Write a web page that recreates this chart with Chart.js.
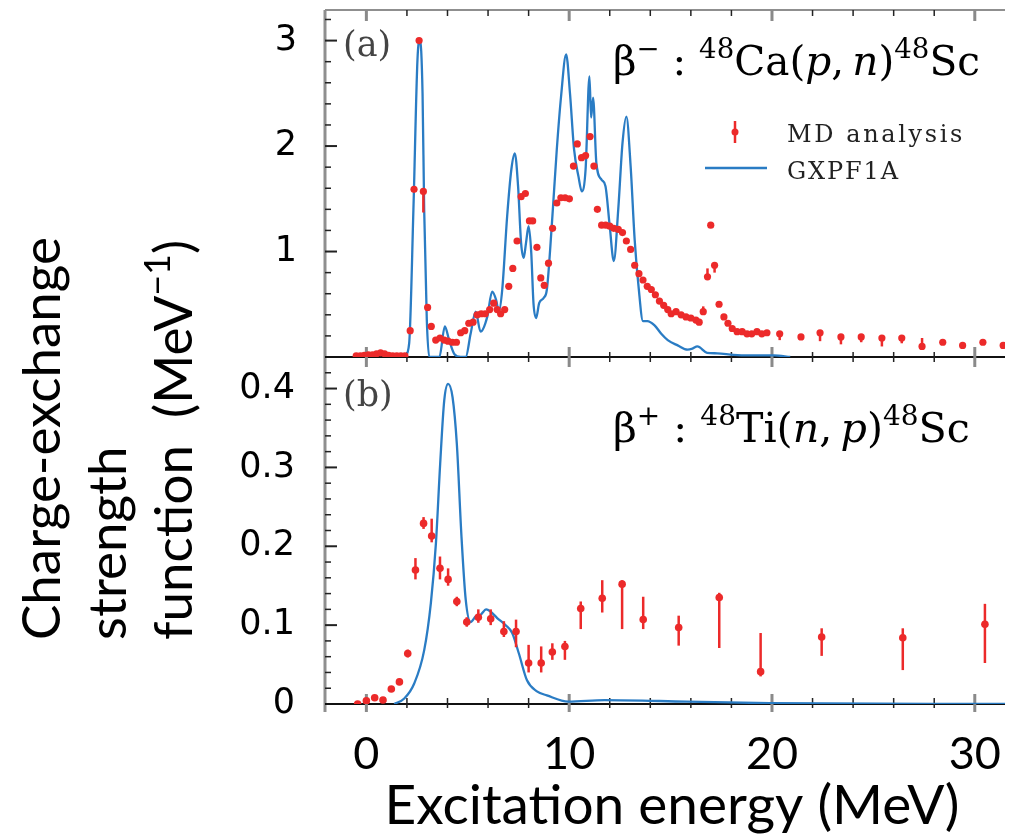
<!DOCTYPE html>
<html>
<head>
<meta charset="utf-8">
<script src="https://cdn.jsdelivr.net/npm/chart.js@4.4.1/dist/chart.umd.min.js"></script>
<style>
  html, body { margin: 0; padding: 0; background: #fff; }
</style>
</head>
<body>
<canvas id="strength" width="1009" height="837"></canvas>
<script>
// tick labels
const xTickValues = [0, 10, 20, 30];
const aTickValues = [1, 2, 3];
const bTickValues = [0, 0.1, 0.2, 0.3, 0.4];

// (a) beta-  48Ca(p,n)48Sc : MD analysis
const aMdX = [-0.5, -0.3, -0.1, 0.1, 0.3, 0.5, 0.7, 0.9, 1.1, 1.3, 1.5, 1.7, 1.9,
  2.16, 2.35, 2.6, 2.81, 3.02, 3.2, 3.42, 3.63, 3.84, 4.03, 4.24, 4.44, 4.65, 4.85, 5.05, 5.26, 5.46, 5.66, 5.86, 6.08, 6.28, 6.45, 6.62, 6.82,
  7.02, 7.22, 7.43, 7.63, 7.84, 8.04, 8.2, 8.41, 8.6, 8.77, 8.98, 9.18, 9.39, 9.59, 9.8, 10.01, 10.21, 10.4, 10.61, 10.81,
  11.03, 11.22, 11.39, 11.6, 11.8, 12.0, 12.2, 12.42, 12.63, 12.82, 13.03, 13.23, 13.44, 13.64, 13.85, 14.05, 14.25, 14.45, 14.66, 14.86,
  15.03, 15.27, 15.52, 15.76, 16.0, 16.25, 16.41, 16.61, 16.82, 16.98, 17.17, 17.39, 17.63, 17.83, 18.04, 18.28, 18.53, 18.77, 19.0, 19.26, 19.5, 19.75,
  20.38, 21.43, 22.37, 23.4, 24.4, 25.42, 26.4, 27.4, 28.42, 29.4, 30.4, 31.4];
const aMdY = [0.01, 0.01, 0.015, 0.02, 0.02, 0.03, 0.04, 0.03, 0.015, 0.01, 0.01, 0.01, 0.01,
  0.25, 1.59, 3.0, 1.57, 0.47, 0.29, 0.16, 0.18, 0.16, 0.15, 0.14, 0.14, 0.23, 0.25, 0.32, 0.33, 0.40, 0.41, 0.41, 0.45, 0.51, 0.45, 0.41, 0.45,
  0.67, 0.84, 1.10, 1.52, 1.55, 1.29, 1.29, 1.04, 0.75, 0.68, 0.89, 1.22, 1.46, 1.51, 1.51, 1.50, 1.81, 2.02, 1.89, 1.91,
  2.09, 1.81, 1.40, 1.25, 1.25, 1.24, 1.22, 1.21, 1.18, 1.10, 1.02, 0.87, 0.79, 0.73, 0.67, 0.64, 0.59, 0.53, 0.49, 0.45,
  0.41, 0.43, 0.40, 0.38, 0.37, 0.35, 0.33, 0.43, 0.76, 1.25, 0.87, 0.50, 0.38, 0.32, 0.27, 0.24, 0.24, 0.22, 0.22, 0.24, 0.22, 0.23,
  0.22, 0.19, 0.23, 0.19, 0.19, 0.18, 0.18, 0.10, 0.14, 0.11, 0.14, 0.11];
// visible error bars in (a)
const aErrX = [2.81, 16.61, 16.82, 17.17, 20.38, 22.37, 23.4, 24.4, 25.42, 26.4, 27.4, 31.4];
const aErrLo = [1.37, 0.43, 0.76, 0.80, 0.16, 0.15, 0.12, 0.14, 0.10, 0.13, 0.10, 0.11];
const aErrHi = [1.57, 0.48, 0.84, 0.87, 0.22, 0.23, 0.19, 0.19, 0.18, 0.18, 0.18, 0.14];

// (a) GXPF1A
const aThX = [1.9, 2.11, 2.32, 2.52, 2.64, 2.77, 2.85, 2.98, 3.1, 3.6, 3.87, 4.08, 4.33, 4.65, 4.9, 5.14, 5.39, 5.63, 5.96, 6.2,
  6.4, 6.53, 6.7, 6.94, 7.15, 7.32, 7.48, 7.63, 7.76, 7.87, 8.0, 8.13, 8.24, 8.37, 8.52, 8.74, 8.9, 9.15, 9.39, 9.6,
  9.85, 10.04, 10.24, 10.46, 10.62, 10.81, 11.0, 11.08, 11.18, 11.34, 11.6, 11.79, 12.0, 12.2, 12.42, 12.63, 12.82, 13.03, 13.23, 13.42,
  13.64, 13.85, 14.21, 14.54, 14.86, 15.35, 15.84, 16.08, 16.32, 16.8, 17.3, 18.1, 18.9, 20.1, 20.9];
const aThY = [0, 0.13, 1.40, 2.82, 3.01, 2.50, 1.40, 0.35, 0, 0, 0.29, 0.16, 0.03, 0, 0, 0.22, 0.43, 0.24, 0.38, 0.62,
  0.54, 0.43, 0.64, 1.33, 1.78, 1.93, 1.62, 1.08, 0.94, 1.08, 1.24, 0.99, 0.51, 0.37, 0.51, 0.56, 0.64, 1.27, 1.97, 2.47,
  2.87, 2.50, 1.97, 1.71, 1.57, 1.78, 2.66, 2.27, 2.46, 1.84, 1.68, 1.62, 1.24, 0.91, 1.40, 2.03, 2.28, 1.81, 1.11, 0.67,
  0.34, 0.34, 0.30, 0.22, 0.16, 0.11, 0.07, 0.08, 0.10, 0.04, 0.035, 0.02, 0.015, 0.015, 0];

// (b) beta+  48Ti(n,p)48Sc : MD analysis
const bMdX = [-0.43, 0.0, 0.41, 0.82, 1.23, 1.63, 2.04, 2.42, 2.82, 3.22, 3.63, 4.03, 4.46, 4.95, 5.52, 6.13,
  6.78, 7.38, 8.0, 8.62, 9.17, 9.79, 10.57, 11.63, 12.61, 13.65, 15.4, 17.4, 19.44, 22.45, 26.45, 30.5];
const bMdY = [0.000, 0.004, 0.008, 0.005, 0.019, 0.028, 0.064, 0.170, 0.229, 0.213, 0.172, 0.158, 0.130, 0.104, 0.110, 0.108,
  0.092, 0.092, 0.052, 0.052, 0.066, 0.073, 0.121, 0.134, 0.152, 0.107, 0.097, 0.135, 0.041, 0.085, 0.084, 0.101];
const bErrLo = [0.000, 0.003, 0.006, 0.004, 0.016, 0.024, 0.059, 0.158, 0.222, 0.205, 0.158, 0.150, 0.124, 0.098, 0.103, 0.100,
  0.085, 0.072, 0.040, 0.040, 0.056, 0.056, 0.095, 0.116, 0.095, 0.095, 0.074, 0.071, 0.035, 0.061, 0.043, 0.052];
const bErrHi = [0.002, 0.006, 0.011, 0.007, 0.022, 0.032, 0.069, 0.185, 0.237, 0.235, 0.187, 0.172, 0.136, 0.110, 0.120, 0.120,
  0.105, 0.107, 0.075, 0.073, 0.077, 0.080, 0.130, 0.157, 0.157, 0.136, 0.112, 0.141, 0.090, 0.096, 0.096, 0.127];

// (b) GXPF1A
const bThX = [1.37, 1.87, 2.36, 2.85, 3.18, 3.43, 3.64, 3.84, 4.03, 4.25, 4.46, 4.69, 4.9, 5.14, 5.39,
  5.63, 5.91, 6.13, 6.45, 6.86, 7.19, 7.52, 7.92, 8.41, 8.9, 9.95, 11.75, 15.8, 19.9, 31.5];
const bThY = [0, 0.007, 0.026, 0.068, 0.128, 0.204, 0.305, 0.385, 0.406, 0.389, 0.330, 0.212, 0.132, 0.104, 0.111,
  0.113, 0.120, 0.117, 0.109, 0.100, 0.090, 0.064, 0.030, 0.016, 0.011, 0.003, 0.005, 0.003, 0.001, 0];

const red = '#ec2a2a';
const blue = '#2a7cc4';
const sans = '"Lato", "Open Sans", sans-serif';
const serif = '"DejaVu Serif", "Liberation Serif", serif';
const tickFont = '"DejaVu Sans", sans-serif';

const pts = (xs, ys) => xs.map((x, i) => ({ x: x, y: ys[i] }));

// font size so that a text gets a given width
const mctx = document.createElement('canvas').getContext('2d');
function fitSize(text, family, target, style) {
  mctx.font = (style || '') + ' 100px ' + family;
  return 100 * target / mctx.measureText(text).width;
}

// text made of pieces, some raised or italic
function richWidth(ctx, parts, size, family) {
  let w = 0;
  parts.forEach(p => {
    const s = p.sup ? size * 0.68 : size;
    ctx.font = (p.it ? 'italic ' : '') + s + 'px ' + family;
    w += ctx.measureText(p.t).width;
  });
  return w;
}
function drawRich(ctx, parts, x, y, size, family) {
  parts.forEach(p => {
    const s = p.sup ? size * 0.68 : size;
    ctx.font = (p.it ? 'italic ' : '') + s + 'px ' + family;
    ctx.fillText(p.t, x, p.sup ? y - size * 0.42 : y);
    x += ctx.measureText(p.t).width;
  });
}

const titleA = [{ t: 'β' }, { t: '−', sup: 1 }, { t: ' : ' }, { t: '48', sup: 1 }, { t: 'Ca(' }, { t: 'p', it: 1 },
  { t: ',\u2009' }, { t: 'n', it: 1 }, { t: ')' }, { t: '48', sup: 1 }, { t: 'Sc' }];
const titleB = [{ t: 'β' }, { t: '+', sup: 1 }, { t: ' : ' }, { t: '48', sup: 1 }, { t: 'Ti(' }, { t: 'n', it: 1 },
  { t: ',\u2009' }, { t: 'p', it: 1 }, { t: ')' }, { t: '48', sup: 1 }, { t: 'Sc' }];
const yTitle = [
  [{ t: 'Charge-exchange' }],
  [{ t: 'strength' }],
  [{ t: 'function  (MeV' }, { t: '−1', sup: 1 }, { t: ')' }]
];

const xTickSize = 45;
const yTitleSize = fitSize('Charge-exchange', sans, 403);
const xTitleSize = fitSize('Excitation energy (MeV)', sans, 575);

function line(ctx, x1, y1, x2, y2) {
  ctx.beginPath(); ctx.moveTo(x1, y1); ctx.lineTo(x2, y2); ctx.stroke();
}

const frame = {
  id: 'frame',
  beforeDatasetsDraw(chart) {
    const { ctx, chartArea: ca, scales } = chart;
    const x = scales.x, ya = scales.ya, yb = scales.yb;
    ctx.save();
    ctx.lineCap = 'butt';
    // box edges
    ctx.strokeStyle = '#8f8f8f';
    ctx.lineWidth = 3;
    line(ctx, ca.left, ca.bottom + 8, ca.left, ca.top);
    ctx.lineWidth = 2;
    line(ctx, ca.left, ca.top, ca.right, ca.top);
    // zero lines of both panels
    const y0a = ya.getPixelForValue(0), y0b = yb.getPixelForValue(0);
    ctx.strokeStyle = '#111';
    ctx.lineWidth = 2;
    line(ctx, ca.left, y0a, ca.right, y0a);
    line(ctx, ca.left, y0b, ca.right, y0b);
    // x tick marks
    for (let v = -2; v <= 32; v += 2) {
      const px = x.getPixelForValue(v);
      if (px < ca.left + 2 || px > ca.right) continue;
      if (v % 10 === 0) {
        ctx.strokeStyle = '#8a8a8a'; ctx.lineWidth = 3;
        line(ctx, px, ca.top, px, ca.top + 11);
        line(ctx, px, y0a - 10, px, y0a + 10);
        line(ctx, px, y0b - 10, px, y0b + 8);
      } else {
        ctx.strokeStyle = '#222'; ctx.lineWidth = 1.5;
        line(ctx, px, ca.top, px, ca.top + 6);
        line(ctx, px, y0a - 5, px, y0a + 5);
        line(ctx, px, y0b - 6, px, y0b + 4);
      }
    }
    // y tick marks
    ctx.strokeStyle = '#222';
    for (let k = 1; k <= 16; k++) {
      const py = ya.getPixelForValue(k * 0.2);
      if (py < ca.top + 2) continue;
      ctx.lineWidth = k % 5 === 0 ? 2 : 1.5;
      line(ctx, ca.left, py, ca.left + (k % 5 === 0 ? 12 : 6), py);
    }
    for (let k = 1; k <= 22; k++) {
      const py = yb.getPixelForValue(k * 0.02);
      if (py < y0a + 3) continue;
      ctx.lineWidth = k % 5 === 0 ? 2 : 1.5;
      line(ctx, ca.left, py, ca.left + (k % 5 === 0 ? 12 : 6), py);
    }
    ctx.restore();
  },
  afterDatasetsDraw(chart) {
    const { ctx, scales } = chart;
    const x = scales.x, ya = scales.ya, yb = scales.yb;
    ctx.save();
    // error bars
    ctx.strokeStyle = red;
    ctx.lineWidth = 2.5;
    aErrX.forEach((v, i) => {
      const px = x.getPixelForValue(v);
      line(ctx, px, ya.getPixelForValue(aErrLo[i]), px, ya.getPixelForValue(aErrHi[i]));
    });
    bMdX.forEach((v, i) => {
      const px = x.getPixelForValue(v);
      line(ctx, px, yb.getPixelForValue(bErrLo[i]), px, yb.getPixelForValue(bErrHi[i]));
    });

    // panel tags
    ctx.fillStyle = '#444';
    ctx.textBaseline = 'alphabetic';
    ctx.textAlign = 'left';
    ctx.font = '35px ' + serif;
    ctx.fillText('(a)', 343, 56);
    ctx.fillText('(b)', 343, 406);

    // reaction labels
    ctx.fillStyle = '#000';
    const fa = 40 * 367 / richWidth(ctx, titleA, 40, serif);
    drawRich(ctx, titleA, 613, 75, fa, serif);
    const fb = 40 * 357 / richWidth(ctx, titleB, 40, serif);
    drawRich(ctx, titleB, 613, 442, fb, serif);

    // legend
    ctx.strokeStyle = red; ctx.lineWidth = 2.5;
    line(ctx, 735, 121, 735, 143);
    ctx.fillStyle = red;
    ctx.beginPath(); ctx.arc(735, 132, 3.5, 0, Math.PI * 2); ctx.fill();
    ctx.strokeStyle = blue; ctx.lineWidth = 2.3;
    line(ctx, 705, 168, 767, 168);
    ctx.fillStyle = '#222';
    ctx.font = '24px ' + serif;
    ctx.letterSpacing = ((178 - ctx.measureText('MD analysis').width) / 11).toFixed(2) + 'px';
    ctx.fillText('MD analysis', 787, 142);
    ctx.letterSpacing = '0px';
    ctx.letterSpacing = ((113 - ctx.measureText('GXPF1A').width) / 6).toFixed(2) + 'px';
    ctx.fillText('GXPF1A', 787, 179);
    ctx.letterSpacing = '0px';

    // axis titles
    ctx.fillStyle = '#000';
    ctx.font = xTitleSize + 'px ' + sans;
    ctx.textAlign = 'center';
    ctx.fillText('Excitation energy (MeV)', 672, 824);
    ctx.textAlign = 'left';
    const cols = [60, 126, 192];
    yTitle.forEach((parts, i) => {
      ctx.save();
      ctx.translate(cols[i], 640);
      ctx.rotate(-Math.PI / 2);
      drawRich(ctx, parts, 0, 0, yTitleSize, sans);
      ctx.restore();
    });
    ctx.restore();
  }
};

const noPad = s => { s.paddingLeft = 0; s.paddingRight = 0; s.paddingTop = 0; s.paddingBottom = 0; };

new Chart(document.getElementById('strength'), {
  type: 'scatter',
  data: {
    datasets: [{
      label: 'MD analysis (a)',
      data: pts(aMdX, aMdY),
      yAxisID: 'ya',
      backgroundColor: red,
      borderWidth: 0,
      pointRadius: 3.6
    }, {
      label: 'MD analysis (b)',
      data: pts(bMdX, bMdY),
      yAxisID: 'yb',
      backgroundColor: red,
      borderWidth: 0,
      pointRadius: 3.8
    }, {
      label: 'GXPF1A (a)',
      data: pts(aThX, aThY),
      yAxisID: 'ya',
      showLine: true,
      borderColor: blue,
      borderWidth: 2.3,
      pointRadius: 0,
      cubicInterpolationMode: 'monotone'
    }, {
      label: 'GXPF1A (b)',
      data: pts(bThX, bThY),
      yAxisID: 'yb',
      showLine: true,
      borderColor: blue,
      borderWidth: 2.3,
      pointRadius: 0,
      cubicInterpolationMode: 'monotone'
    }]
  },
  options: {
    responsive: false,
    animation: false,
    layout: { padding: { top: 10, left: 0, right: 0, bottom: 0 } },
    plugins: { legend: { display: false }, tooltip: { enabled: false } },
    scales: {
      x: {
        type: 'linear',
        min: -2.04,
        max: 31.49,
        grid: { display: false, drawTicks: false },
        border: { display: false },
        afterBuildTicks: s => { s.ticks = xTickValues.map(v => ({ value: v })); },
        afterFit: s => { s.height = 133; noPad(s); },
        ticks: { color: '#000', padding: 23, font: { family: sans, size: xTickSize } }
      },
      // bottom panel first: the stack is filled from the bottom
      yb: {
        type: 'linear',
        position: 'left',
        stack: 'panels',
        stackWeight: 1,
        min: 0,
        max: 0.44,
        grid: { display: false, drawTicks: false },
        border: { display: false },
        afterBuildTicks: s => { s.ticks = bTickValues.map(v => ({ value: v })); },
        afterFit: s => { s.width = 325; noPad(s); },
        ticks: {
          color: '#000', padding: 30, font: { family: tickFont, size: 35 },
          callback: v => v === 0 ? '0' : v.toFixed(1)
        }
      },
      ya: {
        type: 'linear',
        position: 'left',
        stack: 'panels',
        stackWeight: 1,
        min: 0,
        max: 3.29,
        grid: { display: false, drawTicks: false },
        border: { display: false },
        afterBuildTicks: s => { s.ticks = aTickValues.map(v => ({ value: v })); },
        afterFit: s => { s.width = 325; noPad(s); },
        ticks: { color: '#000', padding: 28, font: { family: tickFont, size: 35 } }
      }
    }
  },
  plugins: [frame]
});
</script>
</body>
</html>
